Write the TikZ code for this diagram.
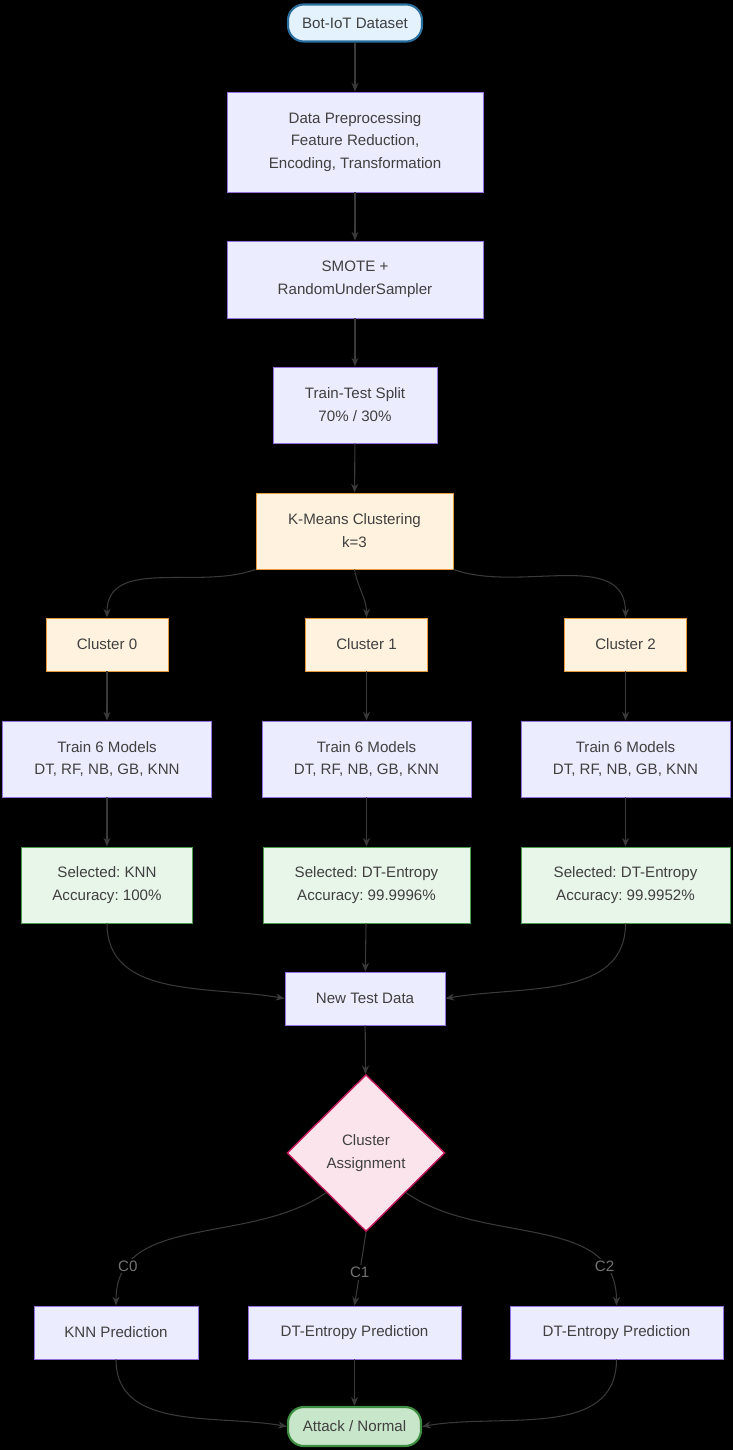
\documentclass[tikz,border=0pt]{standalone}
\usepackage{fontspec}
\setmainfont{Liberation Sans}
\usepackage{xcolor}
\usetikzlibrary{arrows.meta, positioning, shapes.geometric}
\definecolor{stepfill}{HTML}{ECECFF}
\definecolor{stepdraw}{HTML}{9370DB}
\definecolor{clufill}{HTML}{FFF3E0}
\definecolor{cludraw}{HTML}{E69A3C}
\definecolor{selfill}{HTML}{E8F5E9}
\definecolor{seldraw}{HTML}{4C9A50}
\definecolor{startfill}{HTML}{E3F2FD}
\definecolor{startdraw}{HTML}{2A6F9E}
\definecolor{decfill}{HTML}{FCE4EC}
\definecolor{decdraw}{HTML}{C2185B}
\definecolor{endfill}{HTML}{C8E6C9}
\definecolor{enddraw}{HTML}{3E8E41}
\definecolor{linkcol}{HTML}{3A3A3A}
\frenchspacing

\begin{document}
\begin{tikzpicture}[
  x=0.02cm, y=-0.02cm,
  font=\fontsize{8.6}{13}\selectfont,
  step/.style={
    rectangle,
    draw=stepdraw,
    fill=#1,
    line width=0.5pt,
    inner sep=0pt,
    text=black!75,
    align=center
  },
  step/.default=stepfill,
  pill/.style={
    rectangle,
    rounded corners=9pt,
    draw=#1,
    line width=1.2pt,
    inner sep=0pt,
    text=black!75,
    align=center
  },
  link/.style={
    -{Stealth[length=5pt,width=4pt]},
    line width=0.6pt,
    draw=linkcol
  },
  tag/.style={text=black!55, fill=black, inner sep=1pt}
]
\fill[black] (0,0) rectangle (733,1450);

% Preparation steps
\node[pill=startdraw, fill=startfill, minimum width=134*0.02cm, minimum height=37*0.02cm] (data) at (355,23) {Bot-IoT Dataset};
\node[step, minimum width=256*0.02cm, minimum height=100*0.02cm] (prep) at (355,142) {Data Preprocessing\\Feature Reduction,\\Encoding, Transformation};
\node[step, minimum width=256*0.02cm, minimum height=77*0.02cm] (smote) at (355,279.5) {SMOTE +\\RandomUnderSampler};
\node[step, minimum width=164*0.02cm, minimum height=76*0.02cm] (split) at (355,405) {Train-Test Split\\70\% / 30\%};
\node[step=clufill, draw=cludraw, minimum width=197*0.02cm, minimum height=76*0.02cm] (kmeans) at (354.5,531) {K-Means Clustering\\k=3};

% Clusters, models and selection
\foreach \i/\cx/\sw/\sel/\acc in {0/107/171/KNN/100\%, 1/366.5/207/DT-Entropy/99.9996\%, 2/625.5/209/DT-Entropy/99.9952\%}{
  \node[step=clufill, draw=cludraw, minimum width=122*0.02cm, minimum height=53*0.02cm] (clu\i) at (\cx,644.5) {Cluster \i};
  \node[step, minimum width=209*0.02cm, minimum height=76*0.02cm] (train\i) at (\cx,759) {Train 6 Models\\DT, RF, NB, GB, KNN};
  \node[step=selfill, draw=seldraw, minimum width=\sw*0.02cm, minimum height=76*0.02cm] (sel\i) at (\cx,885) {Selected: \sel\\Accuracy: \acc};
}

% Test phase
\node[step, minimum width=160*0.02cm, minimum height=53*0.02cm] (test) at (365,998.5) {New Test Data};
\node[diamond, draw=decdraw, fill=decfill, line width=0.8pt, text=black!75, align=center,
  minimum width=158*0.02cm, minimum height=157*0.02cm, inner sep=0pt] (assign) at (366,1153) {Cluster\\Assignment};
\node[step, minimum width=164*0.02cm, minimum height=53*0.02cm] (pred0) at (116,1332.5) {KNN Prediction};
\node[step, minimum width=213*0.02cm, minimum height=53*0.02cm] (pred1) at (354.5,1332.5) {DT-Entropy Prediction};
\node[step, minimum width=213*0.02cm, minimum height=53*0.02cm] (pred2) at (616.5,1332.5) {DT-Entropy Prediction};
\node[pill=enddraw, fill=endfill, minimum width=133*0.02cm, minimum height=39*0.02cm] (result) at (354.5,1426.5) {Attack / Normal};

% Connections
\draw[link] (data) -- (prep);
\draw[link] (prep) -- (smote);
\draw[link] (smote) -- (split);
\draw[link] (split) -- (kmeans);
\draw[link] (kmeans.south west) to[out=200, in=90] (clu0.north);
\draw[link] (kmeans.south) to[out=-80, in=90] (clu1.north);
\draw[link] (kmeans.south east) to[out=-20, in=90] (clu2.north);
\foreach \i in {0,1,2}{
  \draw[link] (clu\i) -- (train\i);
  \draw[link] (train\i) -- (sel\i);
}
\draw[link] (sel0.south) to[out=-90, in=170] (test.west);
\draw[link] (sel1) -- (test);
\draw[link] (sel2.south) to[out=-90, in=10] (test.east);
\draw[link] (test) -- (assign);
\draw[link] (assign.south west) to[out=215, in=90] node[tag, pos=0.82] {C0} (pred0.north);
\draw[link] (assign.south) -- node[tag, pos=0.55] {C1} (pred1.north);
\draw[link] (assign.south east) to[out=-35, in=90] node[tag, pos=0.82] {C2} (pred2.north);
\draw[link] (pred0.south) to[out=-90, in=170] (result.west);
\draw[link] (pred1) -- (result);
\draw[link] (pred2.south) to[out=-90, in=10] (result.east);
\end{tikzpicture}
\end{document}
